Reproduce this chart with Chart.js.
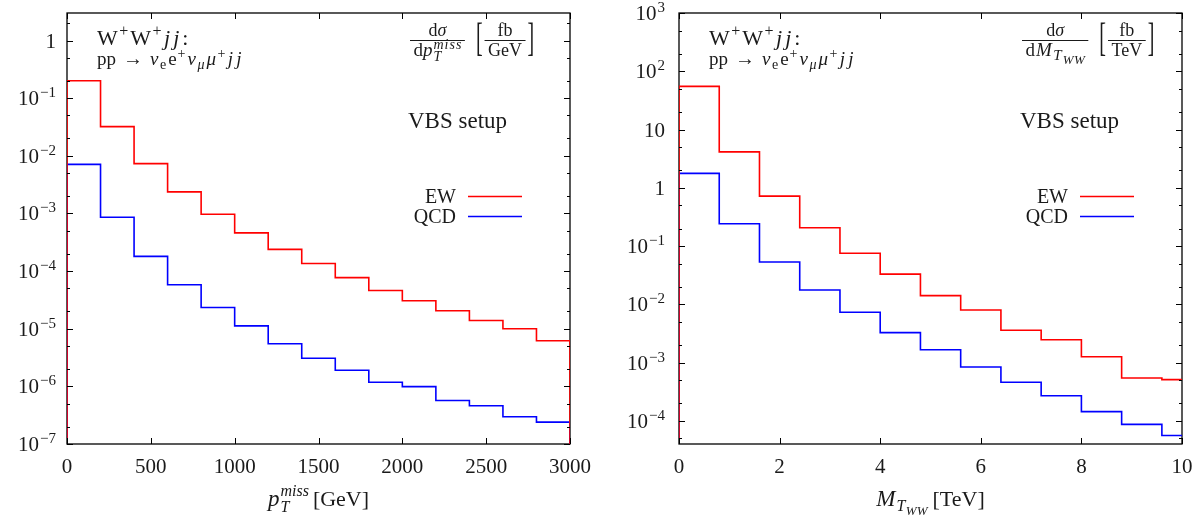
<!DOCTYPE html>
<html>
<head>
<meta charset="utf-8">
<script src="https://cdn.jsdelivr.net/npm/chart.js@4"></script>
<style>
  html, body { margin: 0; padding: 0; background: #fff; }
  #wrap { position: relative; width: 1204px; height: 523px; }
  canvas { position: absolute; top: 0; }
</style>
</head>
<body>
<div id="wrap">
  <canvas id="ptChart" width="602" height="523" style="left:0"></canvas>
  <canvas id="mtChart" width="602" height="523" style="left:602px"></canvas>
</div>
<script>
// missing pT, 200 GeV bins  [fb/GeV]
const ptEdges = [0, 200, 400, 600, 800, 1000, 1200, 1400, 1600, 1800, 2000, 2200, 2400, 2600, 2800, 3000];
const ptEW  = [0.20, 0.032, 7.3e-3, 2.37e-3, 9.7e-4, 4.6e-4, 2.38e-4, 1.35e-4, 7.7e-5, 4.6e-5, 3.05e-5, 2.05e-5, 1.39e-5, 1.0e-5, 6.2e-6];
const ptQCD = [7.1e-3, 8.6e-4, 1.8e-4, 5.8e-5, 2.34e-5, 1.12e-5, 5.5e-6, 3.07e-6, 1.9e-6, 1.18e-6, 9.9e-7, 5.7e-7, 4.6e-7, 2.97e-7, 2.4e-7];
const ptTicks = [0, 500, 1000, 1500, 2000, 2500, 3000];

// transverse mass M_T,WW, 0.8 TeV bins  [fb/TeV]
const mtEdges = [0, 0.8, 1.6, 2.4, 3.2, 4.0, 4.8, 5.6, 6.4, 7.2, 8.0, 8.8, 9.6, 10.4];
const mtEW  = [55, 4.14, 0.72, 0.206, 0.075, 0.033, 0.0141, 7.98e-3, 3.58e-3, 2.47e-3, 1.26e-3, 5.44e-4, 5.1e-4];
const mtQCD = [1.77, 0.241, 0.0532, 0.0176, 7.3e-3, 3.26e-3, 1.66e-3, 8.4e-4, 4.6e-4, 2.7e-4, 1.44e-4, 8.7e-5, 5.6e-5];
const mtTicks = [0, 2, 4, 6, 8, 10];

const SERIF = '"Liberation Serif", "DejaVu Serif", serif';
const INK = '#1a1a1a';

function font(size, italic) {
  return (italic ? 'italic ' : '') + size + 'px ' + SERIF;
}

// segs: [text, size, italic, dy, noAdvance, kernAfter]
function richWidth(ctx, segs) {
  let w = 0;
  segs.forEach(s => {
    ctx.font = font(s[1], s[2]);
    if (!s[4]) w += ctx.measureText(s[0]).width + (s[5] || 0);
  });
  return w;
}

function drawRich(ctx, x, y, segs, align) {
  const w = richWidth(ctx, segs);
  let cx = align === 'right' ? x - w : align === 'center' ? x - w / 2 : x;
  ctx.textAlign = 'left';
  ctx.textBaseline = 'alphabetic';
  segs.forEach(s => {
    ctx.font = font(s[1], s[2]);
    ctx.fillText(s[0], cx, y + (s[3] || 0));
    if (!s[4]) cx += ctx.measureText(s[0]).width + (s[5] || 0);
  });
  return w;
}

function drawFraction(ctx, x, num, den, barY, pad) {
  const w = Math.max(richWidth(ctx, num), richWidth(ctx, den)) + pad;
  ctx.beginPath();
  ctx.lineWidth = 0.9;
  ctx.moveTo(x, barY);
  ctx.lineTo(x + w, barY);
  ctx.stroke();
  drawRich(ctx, x + w / 2, barY - 5, num, 'center');
  drawRich(ctx, x + w / 2, barY + 15, den, 'center');
  return w;
}

// tall thin bracket: a normal glyph stretched vertically
function drawBracket(ctx, ch, x, baseY) {
  ctx.save();
  ctx.font = font(20, false);
  ctx.translate(x, baseY);
  ctx.scale(1, 2.0);
  ctx.fillText(ch, 0, 0);
  const w = ctx.measureText(ch).width;
  ctx.restore();
  return w;
}

function steps(edges, vals, floor) {
  const pts = [{ x: edges[0], y: floor }];
  vals.forEach((v, i) => pts.push({ x: edges[i], y: v }));
  pts.push({ x: edges[vals.length], y: vals[vals.length - 1] });
  pts.push({ x: edges[vals.length], y: floor });
  return pts;
}

function isDecade(v) {
  const l = Math.log10(v);
  return Math.abs(l - Math.round(l)) < 1e-6;
}

function logTicks(min, max) {
  const out = [];
  for (let e = Math.floor(Math.log10(min)); e <= Math.ceil(Math.log10(max)); e++) {
    [1, 2, 5].forEach(d => {
      const v = d * Math.pow(10, e);
      if (v >= min * 0.999 && v <= max * 1.001) out.push(v);
    });
  }
  return out;
}

function decoPlugin(cfg) {
  return {
    id: 'deco',
    beforeDatasetsDraw(chart) {
      const { ctx, chartArea: a } = chart;
      ctx.save();
      ctx.strokeStyle = '#000';
      ctx.lineWidth = 1.3;
      ctx.strokeRect(a.left, a.top, a.right - a.left, a.bottom - a.top);
      ctx.restore();
    },
    afterDraw(chart) {
      const { ctx, chartArea: a, scales: { x, y } } = chart;
      ctx.save();
      ctx.strokeStyle = '#000';
      ctx.fillStyle = INK;
      ctx.lineWidth = 1;

      // inward tick marks, mirrored
      ctx.beginPath();
      x.ticks.forEach(t => {
        const px = Math.round(x.getPixelForValue(t.value)) + 0.5;
        ctx.moveTo(px, a.bottom); ctx.lineTo(px, a.bottom - 6);
        ctx.moveTo(px, a.top); ctx.lineTo(px, a.top + 6);
      });
      y.ticks.forEach(t => {
        const py = Math.round(y.getPixelForValue(t.value)) + 0.5;
        const len = isDecade(t.value) ? 6 : 3;
        ctx.moveTo(a.left, py); ctx.lineTo(a.left + len, py);
        ctx.moveTo(a.right, py); ctx.lineTo(a.right - len, py);
      });
      ctx.stroke();

      // y tick labels (powers of ten)
      y.ticks.forEach(t => {
        if (!isDecade(t.value)) return;
        const e = Math.round(Math.log10(t.value));
        const py = y.getPixelForValue(t.value) + 7;
        let segs;
        if (e === 0) segs = [['1', 21]];
        else if (e === 1) segs = [['10', 21]];
        else segs = [['10', 21, false, 0, false, 1], [(e < 0 ? '\u2212' : '') + Math.abs(e), 15, false, -8]];
        drawRich(ctx, a.left - cfg.labelGap, py, segs, 'right');
      });

      // process label
      const tx = a.left + 30;
      drawRich(ctx, tx, 45, [['W', 22, false, 0, false, 1.5], ['+', 16, false, -9, false, 2],
        ['W', 22, false, 0, false, 1.5], ['+', 16, false, -9, false, 2.5],
        ['j', 22, true, 0, false, 3], ['j', 22, true, 0, false, 3], [':', 22]]);
      drawRich(ctx, tx, 65, [['pp', 19, false, 0, false, 7], ['\u2192', 20, false, 0, false, 7],
        ['\u03bd', 19, true, 0, false, 1.5], ['e', 14, false, 4, false, 2], ['e', 19, false, 0, false, 1],
        ['+', 14, false, -7, false, 2], ['\u03bd', 19, true, 0, false, 1.5], ['\u03bc', 14, true, 4, false, 2],
        ['\u03bc', 19, true, 0, false, 1.5], ['+', 14, false, -7, false, 2.5],
        ['j', 19, true, 0, false, 3], ['j', 19, true]]);

      // observable label: d sigma / d X [unit]
      let fx = a.right - 160;
      fx += drawFraction(ctx, fx, [['d', 18], ['\u03c3', 18, true]], cfg.den, 40.5, 7);
      fx += 11;
      fx += drawBracket(ctx, '[', fx, 51) + 2;
      fx += drawFraction(ctx, fx, [['fb', 18]], [[cfg.unit, 18]], 40.5, 7);
      fx += 2;
      drawBracket(ctx, ']', fx, 51);

      drawRich(ctx, a.right - 162, 128, [['VBS setup', 23]]);

      // legend
      [['EW', '#ff0000', 196], ['QCD', '#0000ff', 216]].forEach(([name, col, ly]) => {
        drawRich(ctx, a.right - 114, ly + 7, [[name, 20]], 'right');
        ctx.beginPath();
        ctx.strokeStyle = col;
        ctx.lineWidth = 1.5;
        ctx.moveTo(a.right - 102, ly + 0.5);
        ctx.lineTo(a.right - 48, ly + 0.5);
        ctx.stroke();
      });

      // x axis title
      drawRich(ctx, (a.left + a.right) / 2, 506, cfg.xTitle, 'center');
      ctx.restore();
    }
  };
}

function makeChart(id, cfg) {
  const line = (label, vals, col) => ({
    label: label,
    data: steps(cfg.edges, vals, cfg.yMin),
    borderColor: col,
    borderWidth: 1.6,
    stepped: 'before',
    pointRadius: 0,
    fill: false
  });
  return new Chart(document.getElementById(id), {
    type: 'line',
    data: { datasets: [line('EW', cfg.ew, '#ff0000'), line('QCD', cfg.qcd, '#0000ff')] },
    options: {
      responsive: false,
      animation: false,
      devicePixelRatio: 1,
      layout: { padding: { top: 13, right: cfg.padRight, left: 0, bottom: 0 } },
      plugins: { legend: { display: false }, tooltip: { enabled: false } },
      scales: {
        x: {
          type: 'linear', min: cfg.xMin, max: cfg.xMax,
          grid: { display: false }, border: { display: false },
          afterBuildTicks: s => { s.ticks = cfg.xTicks.map(v => ({ value: v })); },
          afterFit: s => { s.height = 79; },
          ticks: { font: { family: SERIF, size: 21 }, color: INK, padding: 3, maxRotation: 0, autoSkip: false,
                   callback: v => String(v) }
        },
        y: {
          type: 'logarithmic', min: cfg.yMin, max: cfg.yMax,
          grid: { display: false }, border: { display: false },
          ticks: { display: false },
          afterBuildTicks: s => { s.ticks = logTicks(cfg.yMin, cfg.yMax).map(v => ({ value: v })); },
          afterFit: s => { s.width = cfg.yWidth; }
        }
      }
    },
    plugins: [decoPlugin(cfg)]
  });
}

makeChart('ptChart', {
  edges: ptEdges, ew: ptEW, qcd: ptQCD, xTicks: ptTicks,
  xMin: 0, xMax: 3000, yMin: 1e-7, yMax: 3,
  yWidth: 67, padRight: 32, labelGap: 11,
  den: [['d', 19], ['p', 19, true, 0, false, 1], ['T', 14, true, 5, true],
        ['m', 14, true, -7, false, 1], ['i', 14, true, -7, false, 1], ['s', 14, true, -7, false, 1], ['s', 14, true, -7]],
  unit: 'GeV',
  xTitle: [['p', 23, true, 0, false, 1], ['T', 16, true, 6, true],
           ['miss', 16, true, -10, false, 4], ['[GeV]', 22]]
});

makeChart('mtChart', {
  edges: mtEdges, ew: mtEW, qcd: mtQCD, xTicks: mtTicks,
  xMin: 0, xMax: 10, yMin: 4e-5, yMax: 1000,
  yWidth: 77, padRight: 22, labelGap: 14,
  den: [['d', 19, false, 0, false, 1], ['M', 19, true, 0, false, 1.5], ['T', 15, true, 4, false, 1],
        ['W', 13, true, 8, false, 0.5], ['W', 13, true, 8]],
  unit: 'TeV',
  xTitle: [['M', 23, true, 0, false, 1], ['T', 16, true, 5, false, 0.5],
           ['WW', 13, true, 9, false, 5], ['[TeV]', 22]]
});
</script>
</body>
</html>
